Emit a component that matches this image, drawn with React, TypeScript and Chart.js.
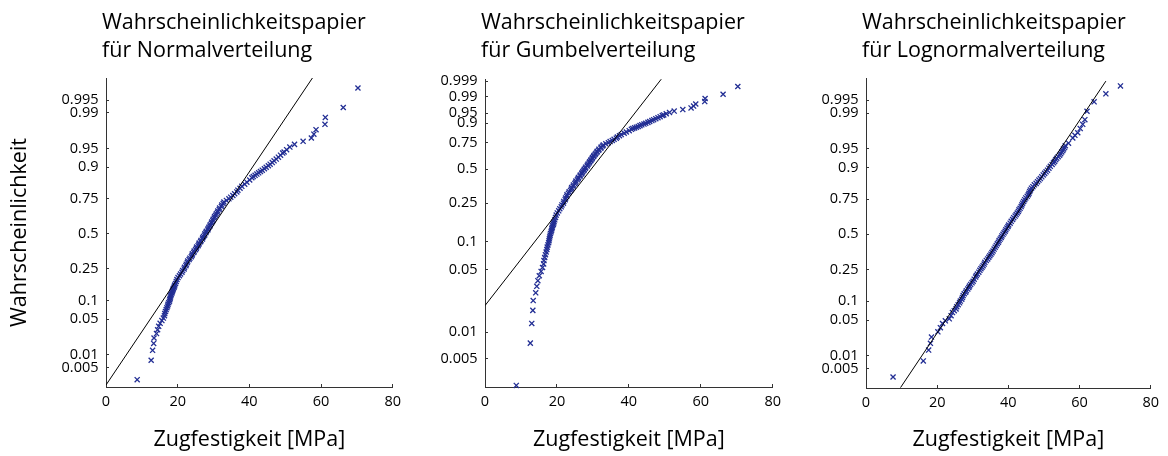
import React, { useEffect, useRef } from 'react';
import { Chart, registerables } from 'chart.js';

Chart.register(...registerables);

// ---------------- Data ----------------
// Sample shown in the Normal and the Gumbel panels: tensile strength [MPa] and probability
const strengthA = [
  8.7, 12.6, 13.0, 13.3, 13.4, 14.1, 14.4, 14.7, 15.1, 15.6,
  16.0, 16.3, 16.4, 16.6, 16.8, 17.0, 17.2, 17.3, 17.5, 17.7,
  17.8, 17.9, 18.0, 18.1, 18.2, 18.4, 18.5, 18.6, 18.7, 18.8,
  19.0, 19.1, 19.2, 19.4, 19.6, 19.8,
  20.1, 20.5, 20.8, 21.2, 21.4, 21.8, 21.9, 22.3, 22.4, 22.7,
  22.8, 23.2, 23.4, 23.8, 24.0, 24.1, 24.5, 24.6, 25.0, 25.2,
  25.3, 25.7, 25.9, 26.0, 26.4, 26.5, 26.9, 27.0, 27.2, 27.5,
  27.6, 27.9, 28.0, 28.4, 28.5, 28.7, 29.0, 29.1, 29.4, 29.5,
  29.8, 29.9, 30.2, 30.3, 30.6, 30.8, 31.1, 31.2, 31.6, 31.7,
  32.2, 32.3, 32.7, 32.9, 33.6, 34.3, 34.8, 35.4, 35.9, 36.5,
  36.8, 37.4, 37.9, 38.7, 39.3, 40.1, 40.7,
  41.1, 41.6, 42.1, 42.6, 43.1, 43.6, 44.2, 44.7, 45.3, 45.8,
  46.4, 46.9, 47.5, 48.1, 48.7, 49.3, 49.7, 50.4, 51.3, 52.6,
  55.0, 57.3, 58.0, 58.6, 61.1, 61.2, 66.2, 70.3,
];
const probA = [
  0.0025, 0.0075, 0.0125, 0.0175, 0.0225, 0.0275, 0.0325, 0.0375, 0.0425, 0.0475,
  0.0525, 0.0575, 0.0625, 0.0675, 0.0725, 0.0775, 0.0825, 0.0875, 0.0925, 0.0975,
  0.1025, 0.1075, 0.1125, 0.1175, 0.1225, 0.1275, 0.1325, 0.1375, 0.1425, 0.1475,
  0.1525, 0.1575, 0.1625, 0.17, 0.18, 0.19,
  0.20, 0.21, 0.22, 0.23, 0.24, 0.25, 0.26, 0.27, 0.28, 0.29,
  0.30, 0.31, 0.32, 0.33, 0.34, 0.35, 0.36, 0.37, 0.38, 0.39,
  0.40, 0.41, 0.42, 0.43, 0.44, 0.45, 0.46, 0.47, 0.48, 0.49,
  0.50, 0.51, 0.52, 0.53, 0.54, 0.55, 0.56, 0.57, 0.58, 0.59,
  0.60, 0.61, 0.62, 0.63, 0.64, 0.65, 0.66, 0.67, 0.68, 0.69,
  0.70, 0.71, 0.72, 0.73, 0.74, 0.75, 0.76, 0.77, 0.78, 0.79,
  0.80, 0.81, 0.82, 0.83, 0.84, 0.85, 0.86,
  0.865, 0.87, 0.875, 0.88, 0.885, 0.89, 0.895, 0.90, 0.905, 0.91,
  0.915, 0.92, 0.925, 0.93, 0.935, 0.94, 0.9425, 0.9475, 0.9525, 0.9575,
  0.9625, 0.9675, 0.9725, 0.9775, 0.9825, 0.9875, 0.9925, 0.9975,
];

// Sample shown in the Lognormal panel
const strengthB = [
  7.6, 16.1, 17.6, 18.1, 18.4, 20.2, 20.9, 21.5, 22.3, 23.4, 23.9,
  24.3, 24.8, 25.3, 25.5, 25.9, 26.3, 26.5, 26.9, 27.1, 27.3,
  27.6, 28.0, 28.2, 28.6, 28.9, 29.1, 29.4, 29.8, 30.1, 30.4,
  30.8, 31.0, 31.3, 31.7, 32.0, 32.3, 32.6, 32.9, 33.2, 33.4,
  33.8, 34.2, 34.5, 34.8, 35.1, 35.4, 35.7, 36.0, 36.3, 36.6,
  36.9, 37.2, 37.4, 37.7, 38.0, 38.2, 38.5, 38.8, 39.1, 39.3,
  39.6, 39.9, 40.1, 40.5, 40.8, 41.2, 41.5, 41.9, 42.2, 42.5,
  42.8, 43.0, 43.3, 43.6, 43.8, 44.0, 44.3, 44.6, 44.9, 45.3,
  45.6, 45.8, 46.0, 46.2, 46.5, 46.9, 47.3, 47.8, 48.2, 48.6,
  49.0, 49.4, 49.8, 50.2, 50.6, 51.0, 51.4, 51.8, 52.3, 52.7,
  53.0, 53.3, 53.6, 54.0, 54.4, 54.7, 55.0, 55.3, 55.5, 55.8, 56.0,
  56.9, 58.1, 58.7, 59.5, 60.2, 60.9, 61.5, 62.1, 64.1, 67.4, 71.5,
];
const probB = [
  0.0031, 0.0076, 0.0132, 0.0183, 0.0244, 0.0307, 0.0367, 0.0436, 0.0485, 0.0526, 0.0594,
  0.0668, 0.0715, 0.0764, 0.0825, 0.0885, 0.0945, 0.1003, 0.1065, 0.1131, 0.12,
  0.1271, 0.1335, 0.1401, 0.147, 0.1539, 0.161, 0.1685, 0.176, 0.1841, 0.195,
  0.2061, 0.215, 0.2236, 0.234, 0.2451, 0.255, 0.2643, 0.274, 0.2843, 0.296,
  0.3085, 0.319, 0.33, 0.341, 0.352, 0.363, 0.3745, 0.389, 0.4032, 0.416,
  0.4286, 0.44, 0.4522, 0.464, 0.4761, 0.488, 0.5, 0.512, 0.5239, 0.536,
  0.5478, 0.56, 0.5714, 0.585, 0.5987, 0.612, 0.6255, 0.637, 0.648, 0.659,
  0.67, 0.681, 0.6915, 0.703, 0.714, 0.725, 0.7357, 0.747, 0.758, 0.767,
  0.7764, 0.785, 0.7939, 0.803, 0.8122, 0.82, 0.8289, 0.836, 0.8438, 0.851,
  0.8577, 0.865, 0.8729, 0.879, 0.8849, 0.891, 0.898, 0.904, 0.9099, 0.915,
  0.9192, 0.924, 0.9279, 0.932, 0.9357, 0.939, 0.9429, 0.946, 0.9495, 0.952, 0.9554,
  0.9599, 0.9678, 0.9713, 0.9744, 0.9788, 0.9826, 0.9861, 0.9909, 0.9945, 0.9965, 0.9978,
];

// Reference (fit) lines: end points as strength / probability
const normalFitX = [0, 57.6];
const normalFitP = [0.00181, 0.99865];
const gumbelFitX = [0, 49.0];
const gumbelFitP = [0.0198, 0.99928];
const lognormalFitX = [9.7, 67.4];
const lognormalFitP = [0.00164, 0.99836];

// Axis ticks and ranges
const xTicks = [0, 20, 40, 60, 80];
const normalTicks = [0.005, 0.01, 0.05, 0.1, 0.25, 0.5, 0.75, 0.9, 0.95, 0.99, 0.995];
const gumbelTicks = [0.005, 0.01, 0.05, 0.1, 0.25, 0.5, 0.75, 0.9, 0.95, 0.99, 0.999];
const normalRangeP = [0.0016, 0.99865];
const gumbelRangeP = [0.0024, 0.99931];

// Texts
const titleLine1 = 'Wahrscheinlichkeitspapier';
const panelTitles = ['für Normalverteilung', 'für Gumbelverteilung', 'für Lognormalverteilung'];
const xAxisTitle = 'Zugfestigkeit [MPa]';
const yAxisTitle = 'Wahrscheinlichkeit';

// ---------------- Probability-paper transforms ----------------
function normInv(p: number): number {
  const a = [-3.969683028665376e1, 2.209460984245205e2, -2.759285104469687e2, 1.38357751867269e2, -3.066479806614716e1, 2.506628277459239];
  const b = [-5.447609879822406e1, 1.615858368580409e2, -1.556989798598866e2, 6.680131188771972e1, -1.328068155288572e1];
  const c = [-7.784894002430293e-3, -3.223964580411365e-1, -2.400758277161838, -2.54967101012693, 4.374664141464968, 2.938163982698783];
  const d = [7.784695709041462e-3, 3.224671290700398e-1, 2.445134137142996, 3.754408661907416];
  const pl = 0.02425;
  if (p < pl) {
    const q = Math.sqrt(-2 * Math.log(p));
    return (((((c[0] * q + c[1]) * q + c[2]) * q + c[3]) * q + c[4]) * q + c[5]) / ((((d[0] * q + d[1]) * q + d[2]) * q + d[3]) * q + 1);
  }
  if (p > 1 - pl) {
    const q = Math.sqrt(-2 * Math.log(1 - p));
    return -(((((c[0] * q + c[1]) * q + c[2]) * q + c[3]) * q + c[4]) * q + c[5]) / ((((d[0] * q + d[1]) * q + d[2]) * q + d[3]) * q + 1);
  }
  const q = p - 0.5;
  const r = q * q;
  return ((((((a[0] * r + a[1]) * r + a[2]) * r + a[3]) * r + a[4]) * r + a[5]) * q) / (((((b[0] * r + b[1]) * r + b[2]) * r + b[3]) * r + b[4]) * r + 1);
}
const probit = (p: number) => normInv(p);
const gumbelT = (p: number) => Math.log(-Math.log(1 - p));

// ---------------- Styling ----------------
const FONT = '"Open Sans", sans-serif';
const MARKER = 'rgb(34, 46, 148)';
const AXIS = '#333';

const titlePlugin = {
  id: 'panelTitle',
  afterDraw(chart: any, _args: any, opts: any) {
    if (!opts || !opts.lines) return;
    const { ctx, chartArea } = chart;
    ctx.save();
    ctx.font = `${opts.size}px ${FONT}`;
    ctx.fillStyle = '#000';
    ctx.textAlign = 'left';
    ctx.textBaseline = 'alphabetic';
    opts.lines.forEach((line: string, i: number) => {
      ctx.fillText(line, chartArea.left + opts.dx, opts.baselines[i]);
    });
    ctx.restore();
  },
};

type PanelCfg = {
  left: number;
  width: number;
  yWidth: number;
  padRight: number;
  padTop: number;
  xHeight: number;
  transform: (p: number) => number;
  range: number[];
  yTicks: number[];
  strength: number[];
  prob: number[];
  fitX: number[];
  fitP: number[];
  title: string;
  showYTitle: boolean;
};

const panels: PanelCfg[] = [
  {
    left: 0, width: 410, yWidth: 106, padRight: 16, padTop: 78, xHeight: 69,
    transform: probit, range: normalRangeP, yTicks: normalTicks,
    strength: strengthA, prob: probA, fitX: normalFitX, fitP: normalFitP,
    title: panelTitles[0], showYTitle: true,
  },
  {
    left: 410, width: 380, yWidth: 75, padRight: 16, padTop: 79, xHeight: 69,
    transform: gumbelT, range: gumbelRangeP, yTicks: gumbelTicks,
    strength: strengthA, prob: probA, fitX: gumbelFitX, fitP: gumbelFitP,
    title: panelTitles[1], showYTitle: false,
  },
  {
    left: 790, width: 378, yWidth: 76, padRight: 14, padTop: 78, xHeight: 68,
    transform: probit, range: normalRangeP, yTicks: normalTicks,
    strength: strengthB, prob: probB, fitX: lognormalFitX, fitP: lognormalFitP,
    title: panelTitles[2], showYTitle: false,
  },
];

function buildConfig(cfg: PanelCfg): any {
  const T = cfg.transform;
  const points = cfg.strength.map((x, i) => ({ x, y: T(cfg.prob[i]) }));
  const fit = cfg.fitX.map((x, i) => ({ x, y: T(cfg.fitP[i]) }));
  return {
    type: 'scatter',
    data: {
      datasets: [
        {
          data: fit,
          showLine: true,
          borderColor: '#000',
          borderWidth: 1,
          pointRadius: 0,
          fill: false,
        },
        {
          data: points,
          showLine: false,
          pointStyle: 'crossRot',
          pointRadius: 3.6,
          pointBorderWidth: 1.3,
          borderColor: MARKER,
          backgroundColor: MARKER,
          pointBorderColor: MARKER,
          clip: false,
        },
      ],
    },
    options: {
      animation: false,
      responsive: false,
      devicePixelRatio: 1,
      events: [],
      layout: { padding: { top: cfg.padTop, right: cfg.padRight, left: 0, bottom: 0 } },
      plugins: {
        legend: { display: false },
        tooltip: { enabled: false },
        panelTitle: { lines: [titleLine1, cfg.title], size: 21.5, dx: -4, baselines: [28.5, 57] },
      },
      scales: {
        x: {
          type: 'linear',
          min: 0,
          max: 80,
          afterFit: (s: any) => { s.height = cfg.xHeight; },
          afterBuildTicks: (s: any) => { s.ticks = xTicks.map((v) => ({ value: v })); },
          ticks: { font: { family: FONT, size: 14.5 }, color: '#000', padding: 9, maxRotation: 0, autoSkip: false },
          grid: { drawOnChartArea: false, drawTicks: true, tickLength: -3, color: AXIS },
          border: { display: true, color: AXIS, width: 1 },
          title: {
            display: true,
            text: xAxisTitle,
            color: '#000',
            font: { family: FONT, size: 21.5 },
            padding: { top: 0, bottom: 3 },
          },
        },
        y: {
          type: 'linear',
          min: T(cfg.range[0]),
          max: T(cfg.range[1]),
          afterFit: (s: any) => { s.width = cfg.yWidth; },
          afterBuildTicks: (s: any) => { s.ticks = cfg.yTicks.map((p) => ({ value: T(p) })); },
          ticks: {
            font: { family: FONT, size: 14.5 },
            color: '#000',
            padding: 10.5,
            autoSkip: false,
            callback: (_v: any, i: number) => String(cfg.yTicks[i]),
          },
          grid: { drawOnChartArea: false, drawTicks: true, tickLength: -3, color: AXIS },
          border: { display: true, color: AXIS, width: 1 },
          title: {
            display: cfg.showYTitle,
            text: yAxisTitle,
            color: '#000',
            font: { family: FONT, size: 21.5 },
            padding: { top: 7, bottom: 0 },
          },
        },
      },
    },
    plugins: [titlePlugin],
  };
}

function Panel({ cfg }: { cfg: PanelCfg }) {
  const ref = useRef<HTMLCanvasElement | null>(null);
  useEffect(() => {
    if (!ref.current) return;
    const chart = new Chart(ref.current, buildConfig(cfg));
    return () => chart.destroy();
  }, [cfg]);
  return (
    <canvas
      ref={ref}
      width={cfg.width}
      height={456}
      style={{ position: 'absolute', left: cfg.left, top: 0, width: cfg.width, height: 456 }}
    />
  );
}

export default function App() {
  return (
    <div style={{ position: 'fixed', left: 0, top: 0, width: 1168, height: 456, background: '#fff', overflow: 'hidden' }}>
      {panels.map((cfg, i) => (
        <Panel key={i} cfg={cfg} />
      ))}
    </div>
  );
}
